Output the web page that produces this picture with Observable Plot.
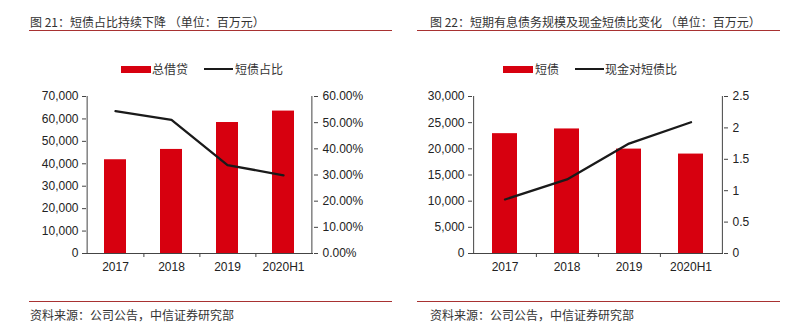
<!DOCTYPE html>
<html>
<head>
<meta charset="utf-8">
<script src="https://cdn.jsdelivr.net/npm/d3@7"></script>
<script src="https://cdn.jsdelivr.net/npm/@observablehq/plot@0.6"></script>
<style>
  html, body { margin: 0; padding: 0; background: #fff; }
  #root { position: relative; width: 800px; height: 331px; overflow: hidden; font-family: "Liberation Sans", Arial, "Noto Sans CJK SC", sans-serif; color: #333; }
  .t { position: absolute; white-space: nowrap; font-size: 12px; line-height: 16px; font-family: "Noto Sans CJK SC", "Liberation Sans", sans-serif; color: #333; }
  .hr { position: absolute; height: 0; border-top: 1px solid #a83232; }
  .sw { position: absolute; }
  .plot { position: absolute; top: 86px; }
</style>
</head>
<body>
<div id="root"></div>
<script>
// ---- data ----
const categories = ["2017", "2018", "2019", "2020H1"];
// Chart 21
const totalDebt = [41800, 46400, 58400, 63500];          // 总借贷 (百万元)
const shortShare = [0.544, 0.511, 0.338, 0.299];        // 短债占比
const leftTicks21 = [0, 10000, 20000, 30000, 40000, 50000, 60000, 70000];
const rightTicks21 = [0, 0.1, 0.2, 0.3, 0.4, 0.5, 0.6];
// Chart 22
const shortDebt = [22900, 23800, 19950, 19000];          // 短债 (百万元)
const cashRatio = [0.86, 1.18, 1.75, 2.09];             // 现金对短债比
const leftTicks22 = [0, 5000, 10000, 15000, 20000, 25000, 30000];
const rightTicks22 = [0, 0.5, 1, 1.5, 2, 2.5];

const titles = ["图 21：短债占比持续下降 （单位：百万元）", "图 22：短期有息债务规模及现金短债比变化 （单位：百万元）"];
const barNames = ["总借贷", "短债"];
const lineNames = ["短债占比", "现金对短债比"];
const source = "资料来源：公司公告，中信证券研究部";

const RED = "#d7000f";
const INK = "#1a1a1a";
const AXIS = "#444";

const root = document.getElementById("root");
function el(cls, css, text) {
  const d = document.createElement("div");
  d.className = cls;
  Object.assign(d.style, css);
  if (text != null) d.textContent = text;
  root.appendChild(d);
  return d;
}

function chart({bars, line, leftTicks, rightTicks, yMax, rMax, rightFmt, mLeft, mRight}) {
  const W = 400, H = 190, mTop = 10, mBottom = 23;
  const k = yMax / rMax;
  const step = (W - mLeft - mRight) / categories.length;
  const data = categories.map((c, i) => ({cat: c, bar: bars[i], line: line[i]}));
  return Plot.plot({
    width: W, height: H,
    marginLeft: mLeft, marginRight: mRight, marginTop: mTop, marginBottom: mBottom,
    style: {fontSize: "12px", fontFamily: "'Liberation Sans', Arial, sans-serif", color: "#222", background: "transparent", overflow: "visible"},
    x: {type: "band", domain: categories, paddingInner: 0.6, paddingOuter: 0.3, axis: null},
    y: {domain: [0, yMax], axis: null},
    marks: [
      Plot.barY(data, {x: "cat", y: "bar", fill: RED}),
      Plot.ruleY([0], {stroke: AXIS}),
      Plot.ruleX([categories[0]], {dx: -step / 2, stroke: AXIS}),
      Plot.ruleX([categories[categories.length - 1]], {dx: step / 2, stroke: AXIS}),
      Plot.line(data, {x: "cat", y: d => d.line * k, stroke: INK, strokeWidth: 2.3}),
      Plot.axisY({anchor: "left", ticks: leftTicks, tickSize: 4, tickPadding: 4, tickFormat: d3.format(","), label: null, stroke: AXIS}),
      Plot.axisY({anchor: "right", ticks: rightTicks.map(v => v * k), tickSize: 4, tickPadding: 5, tickFormat: d => rightFmt(d / k), label: null, stroke: AXIS}),
      Plot.axisX({ticks: categories, tickSize: 0, tickPadding: 9, label: null}),
      Plot.axisX({ticks: categories.slice(0, categories.length - 1), tickSize: 4, text: null, dx: step / 2, label: null, stroke: AXIS})
    ]
  });
}

const panels = [
  {x0: 0, bars: totalDebt, line: shortShare, leftTicks: leftTicks21, rightTicks: rightTicks21, yMax: 70000, rMax: 0.6,
   rightFmt: v => (v * 100).toFixed(2) + "%", mLeft: 86, mRight: 87,
   title: titles[0], barName: barNames[0], lineName: lineNames[0],
   hr: [29, 392], leg: {bar: 121, barText: 152, line: 204, lineText: 235}},
  {x0: 400, bars: shortDebt, line: cashRatio, leftTicks: leftTicks22, rightTicks: rightTicks22, yMax: 30000, rMax: 2.5,
   rightFmt: v => d3.format("~g")(+v.toFixed(2)), mLeft: 72, mRight: 77,
   title: titles[1], barName: barNames[1], lineName: lineNames[1],
   hr: [417, 780], leg: {bar: 503, barText: 535, line: 575, lineText: 605}}
];

panels.forEach(p => {
  el("t", {left: (p.x0 + 30) + "px", top: "14px"}, p.title);
  el("hr", {left: p.hr[0] + "px", width: (p.hr[1] - p.hr[0]) + "px", top: "30px"});
  el("sw", {left: p.leg.bar + "px", top: "65.5px", width: "30px", height: "7px", background: RED});
  el("t", {left: p.leg.barText + "px", top: "61px"}, p.barName);
  el("sw", {left: p.leg.line + "px", top: "68px", width: "29px", height: "2px", background: INK});
  el("t", {left: p.leg.lineText + "px", top: "61px"}, p.lineName);
  el("hr", {left: p.hr[0] + "px", width: (p.hr[1] - p.hr[0]) + "px", top: "301px"});
  el("t", {left: (p.x0 + 30) + "px", top: "307px"}, source);
  const svg = chart(p);
  const wrap = el("plot", {left: p.x0 + "px"});
  wrap.appendChild(svg);
});
</script>
</body>
</html>
